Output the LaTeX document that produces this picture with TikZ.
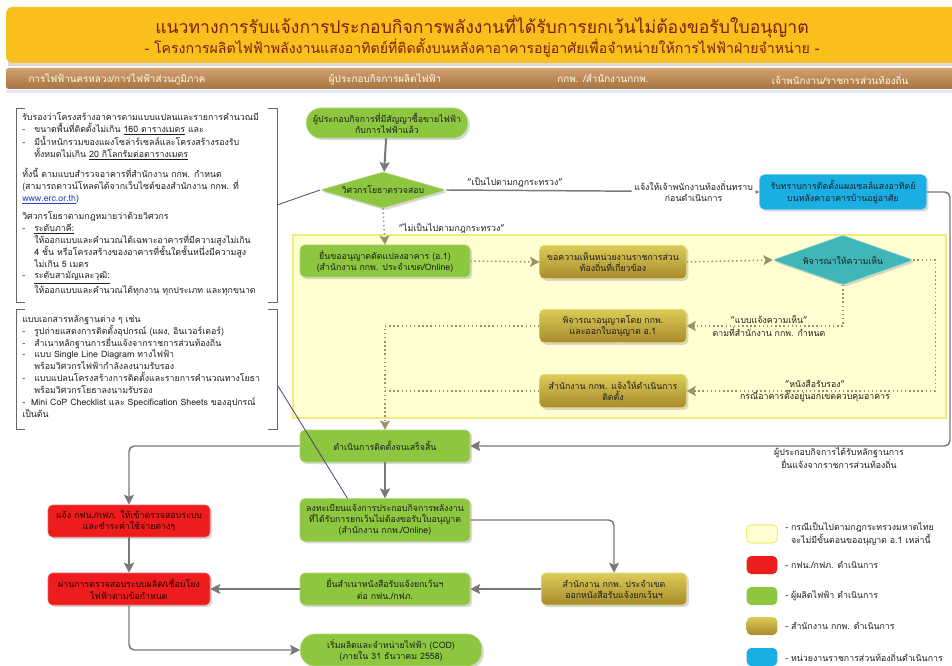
\documentclass[tikz,border=0pt]{standalone}
\usepackage{fontspec}
\setmainfont[Script=Thai]{Loma}
\usetikzlibrary{shapes.geometric,arrows.meta,shadows,calc}
\definecolor{bannerc}{HTML}{F9BF1C}
\definecolor{titlec}{HTML}{7B1E0C}
\definecolor{headtop}{HTML}{CFA170}
\definecolor{headbot}{HTML}{A8733F}
\definecolor{grc}{HTML}{8DC63F}
\definecolor{goldtop}{HTML}{DDCB58}
\definecolor{goldbot}{HTML}{A78B2B}
\definecolor{redc}{HTML}{EE1D1D}
\definecolor{bluec}{HTML}{1BAEE3}
\definecolor{tealc}{HTML}{3FB6B8}
\definecolor{yelarea}{HTML}{FFFFD2}
\definecolor{yelborder}{HTML}{F2EC7E}
\definecolor{arrc}{HTML}{787878}
\definecolor{dotc}{HTML}{9A9268}
\definecolor{txtc}{HTML}{1E1E1E}
\definecolor{purpc}{HTML}{5A3C78}
\definecolor{linkblue}{HTML}{1F3FBF}
\newcommand\bxdash{\makebox[9pt][l]{-}}
\newcommand\bxind{\hspace*{9pt}}
\tikzset{
  nodefont/.style={font=\fontsize{6.6}{8.3}\selectfont},
  basebox/.style={nodefont, rounded corners=3.5pt, align=center, text=txtc, inner sep=1pt,
    drop shadow={shadow xshift=1.6pt, shadow yshift=-1.6pt, fill=black!30, opacity=0.5}},
  greenbox/.style={basebox, fill=grc, draw=grc!70!white, line width=0.4pt},
  goldbox/.style={basebox, top color=goldtop, bottom color=goldbot, draw=goldtop!80!white, line width=0.4pt},
  redbox/.style={basebox, fill=redc, draw=redc!70!white, line width=0.4pt, text=black!85!red},
  bluebox/.style={basebox, fill=bluec, draw=bluec!70!white, line width=0.4pt},
  flowarrow/.style={draw=arrc, line width=1.5pt, -{Stealth[length=7.5pt,width=7.5pt,inset=1.5pt]}},
  flowline/.style={draw=arrc, line width=1.1pt, -{Stealth[length=7.5pt,width=7.5pt,inset=1.5pt]}, rounded corners=4pt},
  dotarrow/.style={draw=dotc, line width=1.1pt, dotted, -{Stealth[length=7pt,width=7.5pt,inset=1.5pt]}},
  dotline/.style={draw=dotc, line width=1.1pt, dotted},
  lbl/.style={nodefont, text=txtc, align=center, inner sep=0.5pt},
  headtxt/.style={font=\fontsize{7.4}{9}\selectfont, text=white!92!yellow},
  boxtext/.style={font=\fontsize{6.6}{8.9}\selectfont, text=txtc, align=left, inner sep=0pt},
  bracket/.style={draw=black!60, line width=0.7pt},
  legsw/.style={rounded corners=3.5pt, minimum width=23pt, minimum height=13.5pt, inner sep=0pt},
  legtxt/.style={nodefont, text=txtc, align=left, anchor=west, inner sep=0pt},
}
\begin{document}
\begin{tikzpicture}[x=0.75pt,y=-0.75pt]
\useasboundingbox (0,0) rectangle (952,666);
\fill[white] (0,0) rectangle (952,666);

% banner
\fill[black!15] (8,10) rectangle (960,66);
\fill[bannerc, rounded corners=5pt] (6,7) rectangle (965,63);
\node[font=\fontsize{13.2}{15}\selectfont, text=titlec] (title1) at (482,27) {แนวทางการรับแจ้งการประกอบกิจการพลังงานที่ได้รับการยกเว้นไม่ต้องขอรับใบอนุญาต};
\node[font=\fontsize{10.6}{13}\selectfont, text=titlec] (title2) at (482,48) {- โครงการผลิตไฟฟ้าพลังงานแสงอาทิตย์ที่ติดตั้งบนหลังคาอาคารอยู่อาศัยเพื่อจำหน่ายให้การไฟฟ้าฝ่ายจำหน่าย -};

% header bar
\shade[top color=headtop, bottom color=headbot, rounded corners=2pt] (6,68) rectangle (965,89);
\fill[black!12!blue!10] (6,90) rectangle (952,93);
\node[headtxt] (h1) at (117,79) {การไฟฟ้านครหลวง/การไฟฟ้าส่วนภูมิภาค};
\node[headtxt] (h2) at (385,79) {ผู้ประกอบกิจการผลิตไฟฟ้า};
\node[headtxt] (h3) at (603,79) {กกพ. /สำนักงานกกพ.};
\node[headtxt] (h4) at (840,79) {เจ้าพนักงาน/ราชการส่วนท้องถิ่น};

% yellow area
\draw[fill=yelarea, draw=yelborder, line width=1pt] (293,235) rectangle (946,418);

% bracket boxes
\draw[bracket] (25,108) -- (16,108) -- (16,302) -- (25,302);
\draw[bracket] (268,108) -- (277,108) -- (277,302) -- (268,302);
\draw[bracket] (25,309) -- (16,309) -- (16,429) -- (25,429);
\draw[bracket] (268,309) -- (277,309) -- (277,429) -- (268,429);

\node[boxtext, anchor=north west] (t1) at (22,112) {%
รับรองว่าโครงสร้างอาคารตามแบบแปลนและรายการคำนวณมี\\
\bxdash ขนาดพื้นที่ติดตั้งไม่เกิน \underline{160 ตารางเมตร} และ\\
\bxdash มีน้ำหนักรวมของแผงโซล่าร์เซลล์และโครงสร้างรองรับ\\
\bxind ทั้งหมดไม่เกิน \underline{20 กิโลกรัมต่อตารางเมตร}\\[5pt]
ทั้งนี้ ตามแบบสำรวจอาคารที่สำนักงาน กกพ. กำหนด\\
(สามารถดาวน์โหลดได้จากเว็บไซต์ของสำนักงาน กกพ. ที่\\
{\color{linkblue}\underline{www.erc.or.th}})\\[5pt]
วิศวกรโยธาตามกฎหมายว่าด้วยวิศวกร\\
\bxdash \underline{ระดับภาคี:}\\
\bxind ให้ออกแบบและคำนวณได้เฉพาะอาคารที่มีความสูงไม่เกิน\\
\bxind 4 ชั้น หรือโครงสร้างของอาคารที่ชั้นใดชั้นหนึ่งมีความสูง\\
\bxind ไม่เกิน 5 เมตร\\
\bxdash \underline{ระดับสามัญและวุฒิ:}\\
\bxind ให้ออกแบบและคำนวณได้ทุกงาน ทุกประเภท และทุกขนาด};

\node[boxtext, anchor=north west] (t2) at (22,315) {%
แบบเอกสารหลักฐานต่าง ๆ เช่น\\
\bxdash รูปถ่ายแสดงการติดตั้งอุปกรณ์ (แผง, อินเวอร์เตอร์)\\
\bxdash สำเนาหลักฐานการยื่นแจ้งจากราชการส่วนท้องถิ่น\\
\bxdash แบบ Single Line Diagram ทางไฟฟ้า\\
\bxind พร้อมวิศวกรไฟฟ้ากำลังลงนามรับรอง\\
\bxdash แบบแปลนโครงสร้างการติดตั้งและรายการคำนวณทางโยธา\\
\bxind พร้อมวิศวกรโยธาลงนามรับรอง\\
- \ Mini CoP Checklist และ Specification Sheets ของอุปกรณ์\\
เป็นต้น};

\coordinate (b1r) at (277,205);
\coordinate (b2r) at (278,386);

% flow nodes
\node[greenbox, rounded corners=11pt, minimum width=121pt, minimum height=22.5pt] (start) at (387,123) {ผู้ประกอบกิจการที่มีสัญญาซื้อขายไฟฟ้า\\กับการไฟฟ้าแล้ว};
\node[greenbox, diamond, rounded corners=2pt, aspect=3.5, inner sep=0pt, minimum width=94pt, minimum height=27pt] (chk) at (383,190) {วิศวกรโยธาตรวจสอบ};
\node[bluebox, minimum width=125pt, minimum height=26pt] (ack) at (843,192) {รับทราบการติดตั้งแผงเซลล์แสงอาทิตย์\\บนหลังคาอาคารบ้านอยู่อาศัย};
\node[greenbox, minimum width=127.5pt, minimum height=24pt] (apply) at (385,261) {ยื่นขออนุญาตดัดแปลงอาคาร (อ.1)\\(สำนักงาน กกพ. ประจำเขต/Online)};
\node[goldbox, minimum width=110pt, minimum height=25pt] (ask) at (613,262) {ขอความเห็นหน่วยงานราชการส่วน\\ท้องถิ่นที่เกี่ยวข้อง};
\node[basebox, diamond, fill=tealc, draw=tealc!70!white, line width=0.4pt, rounded corners=2pt, aspect=2.8, inner sep=0pt, minimum width=105pt, minimum height=37pt] (opin) at (843,260) {พิจารณาให้ความเห็น};
\node[goldbox, minimum width=110pt, minimum height=25pt] (perm) at (613,326) {พิจารณาอนุญาตโดย กกพ.\\และออกใบอนุญาต อ.1};
\node[goldbox, minimum width=110pt, minimum height=25pt] (notif) at (613,391) {สำนักงาน กกพ. แจ้งให้ดำเนินการ\\ติดตั้ง};
\node[greenbox, minimum width=127.5pt, minimum height=24pt] (inst) at (385,446) {ดำเนินการติดตั้งจนเสร็จสิ้น};
\node[greenbox, minimum width=127.5pt, minimum height=32pt] (reg) at (385,520) {ลงทะเบียนแจ้งการประกอบกิจการพลังงาน\\ที่ได้รับการยกเว้นไม่ต้องขอรับใบอนุญาต\\(สำนักงาน กกพ./Online)};
\node[redbox, minimum width=121.5pt, minimum height=24pt] (red1) at (129,521) {แจ้ง กฟน./กฟภ. ให้เข้าตรวจสอบระบบ\\และชำระค่าใช้จ่ายต่างๆ};
\node[redbox, minimum width=121.5pt, minimum height=24pt] (red2) at (129,589) {ผ่านการตรวจสอบระบบผลิต/เชื่อมโยง\\ไฟฟ้าตามข้อกำหนด};
\node[greenbox, minimum width=127.5pt, minimum height=24pt] (copy) at (385,589) {ยื่นสำเนาหนังสือรับแจ้งยกเว้นฯ\\ต่อ กฟน./กฟภ.};
\node[goldbox, minimum width=109pt, minimum height=24pt] (issue) at (614,589) {สำนักงาน กกพ. ประจำเขต\\ออกหนังสือรับแจ้งยกเว้นฯ};
\node[greenbox, rounded corners=11pt, minimum width=136pt, minimum height=24pt] (cod) at (391,650) {เริ่มผลิตและจำหน่ายไฟฟ้า (COD)\\(ภายใน 31 ธันวาคม 2558)};

% connectors
\draw[flowarrow] (start) -- (chk);
\draw[flowline] (chk.east) -- node[lbl, fill=white, pos=0.79, inner sep=2pt] (lblinform) {แจ้งให้เจ้าพนักงานท้องถิ่นทราบ\\ก่อนดำเนินการ} (ack.west);
\node[lbl, anchor=south] (lblok) at (515,188) {"เป็นไปตามกฎกระทรวง"};
\draw[dotarrow] (chk.south) -- (apply.north);
\node[lbl, anchor=west] (lblnok) at (398,228) {"ไม่เป็นไปตามกฎกระทรวง"};
\draw[dotarrow] (apply.east) -- (ask.west);
\draw[dotarrow] (ask.east) -- (opin.west);
\draw[dotarrow] (opin.south) |- (perm.east);
\node[lbl] (lblform) at (769,326) {"แบบแจ้งความเห็น"\\[1pt]ตามที่สำนักงาน กกพ. กำหนด};
\draw[dotarrow] (opin.east) -- ++(22,0) |- (notif.east);
\node[lbl] (lblcert) at (815,391) {"หนังสือรับรอง"\\[1pt]กรณีอาคารตั้งอยู่นอกเขตควบคุมอาคาร};
\draw[dotarrow] (perm.west) -| (inst.north);
\draw[dotline] (notif.west) -- (notif.west -| inst.north);
\draw[flowline] (ack.east) -- (950,192) |- (inst.east);
\node[lbl, anchor=north] (lblproof) at (839,447) {ผู้ประกอบกิจการได้รับหลักฐานการ\\ยื่นแจ้งจากราชการส่วนท้องถิ่น};
\draw[flowarrow] (inst) -- (reg);
\draw[flowline] (inst.west) -| (red1.north);
\draw[flowarrow] (red1) -- (red2);
\draw[flowline] (red2.south) |- (cod.west);
\draw[flowline] (reg.east) -| (issue.north);
\draw[flowline] (issue.west) -- (copy.east);
\draw[flowline] (copy.west) -- (red2.east);
\draw[purpc, line width=0.6pt] (b1r) -- (chk.west);
\draw[purpc, line width=0.6pt] (b2r) -- ($(reg.north west)!0.28!(reg.north east)$);

% legend
\node[legsw, fill=yelarea, draw=yelborder, line width=0.8pt] (lg1) at (762,534) {};
\node[legtxt] (lt1) at (785,534) {- กรณีเป็นไปตามกฎกระทรวงมหาดไทย\\\ \ จะไม่มีขั้นตอนขออนุญาต อ.1 เหล่านี้};
\node[legsw, fill=redc] (lg2) at (762,565) {};
\node[legtxt] (lt2) at (785,565) {- กฟน./กฟภ. ดำเนินการ};
\node[legsw, fill=grc] (lg3) at (762,596) {};
\node[legtxt] (lt3) at (785,596) {- ผู้ผลิตไฟฟ้า ดำเนินการ};
\node[legsw, top color=goldtop, bottom color=goldbot] (lg4) at (762,626) {};
\node[legtxt] (lt4) at (785,626) {- สำนักงาน กกพ. ดำเนินการ};
\node[legsw, fill=bluec] (lg5) at (762,657) {};
\node[legtxt] (lt5) at (785,657) {- หน่วยงานราชการส่วนท้องถิ่นดำเนินการ};
\end{tikzpicture}
\end{document}
